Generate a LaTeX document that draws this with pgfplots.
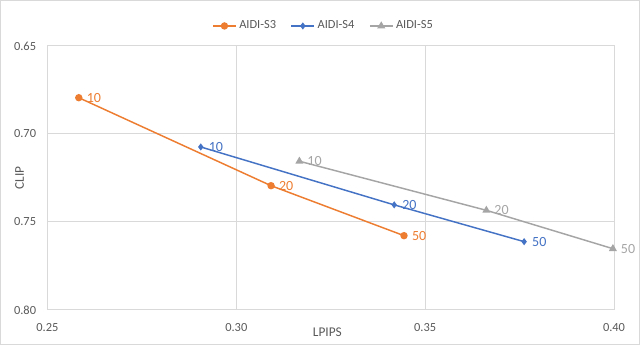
\documentclass[border=0pt]{standalone}
\usepackage{pgfplots}
\pgfplotsset{compat=1.18}
\usepackage{fontspec}
\setmainfont{Carlito}
\definecolor{cS3}{HTML}{ED7D31}
\definecolor{cS4}{HTML}{4472C4}
\definecolor{cS5}{HTML}{A5A5A5}
\definecolor{gridc}{HTML}{D9D9D9}
\definecolor{txt}{HTML}{595959}
\begin{document}
\begin{tikzpicture}
\begin{axis}[
  name=ax,
  scale only axis,
  width=425pt, height=198pt,
  xmin=0.25, xmax=0.40, ymin=0.65, ymax=0.80,
  y dir=reverse,
  xtick={0.25,0.30,0.35,0.40},
  ytick={0.65,0.70,0.75,0.80},
  /pgf/number format/assume math mode=true,
  /pgf/number format/.cd, fixed, fixed zerofill, precision=2, /pgfplots/.cd,
  grid=major,
  major grid style={gridc, line width=0.75pt},
  axis line style={gridc, line width=0.75pt},
  major tick length=0pt,
  tick label style={font=\fontsize{9.3}{11}\selectfont, text=txt},
  xticklabel style={yshift=-6.5pt},
  yticklabel style={xshift=-5pt},
  xlabel={LPIPS}, ylabel={CLIP},
  label style={font=\fontsize{10}{12}\selectfont, text=txt},
  xlabel style={at={(axis description cs:0.494,0)}, anchor=north, yshift=-10pt},
  ylabel style={at={(axis description cs:0,0.5)}, anchor=south, yshift=14pt},
  legend columns=3,
  legend style={draw=none, fill=none, font=\fontsize{9.3}{11}\selectfont, text=txt,
    at={(axis description cs:0.488,1)}, anchor=center, yshift=15pt,
    /tikz/every even column/.append style={column sep=9pt}},
  legend cell align=left,
  nodes near coords,
  point meta=explicit symbolic,
  every node near coord/.append style={anchor=west, inner sep=1pt, xshift=4.5pt, font=\fontsize{10.5}{12}\selectfont},
]
\addplot[cS3, line width=1.1pt, mark=*, mark size=2.2pt, every node near coord/.append style={text=cS3}]
  table[meta=lab] {
x y lab
0.2583 0.6794 10
0.3092 0.7294 20
0.3444 0.7578 50
};
\addlegendentry{AIDI-S3}
\addplot[cS4, line width=1.1pt, mark=diamond*, mark size=1.8pt, every node near coord/.append style={text=cS4}]
  table[meta=lab] {
x y lab
0.2906 0.7074 10
0.3418 0.7403 20
0.3762 0.7612 50
};
\addlegendentry{AIDI-S4}
\addplot[cS5, line width=1.1pt, mark=triangle*, mark size=2.4pt, every node near coord/.append style={text=cS5}]
  table[meta=lab] {
x y lab
0.3167 0.7155 10
0.3662 0.7434 20
0.3997 0.7652 50
};
\addlegendentry{AIDI-S5}
\end{axis}
\draw[gridc, line width=0.75pt] ([xshift=-35.2pt,yshift=-25.9pt]ax.south west) rectangle ([xshift=19.1pt,yshift=34.1pt]ax.north east);
\end{tikzpicture}
\end{document}
